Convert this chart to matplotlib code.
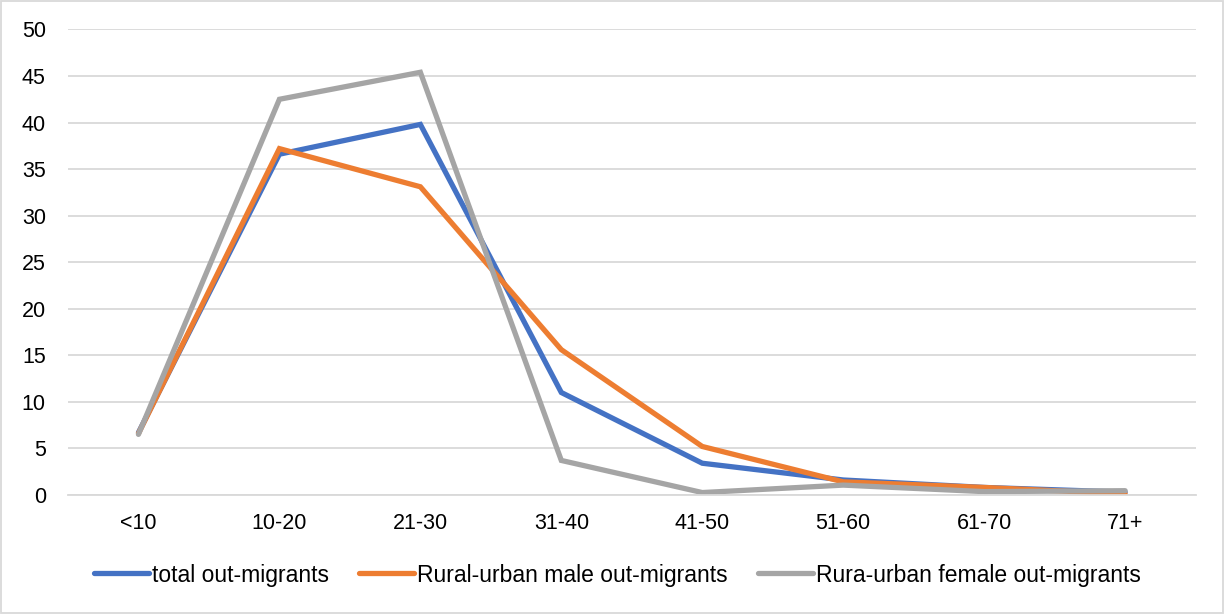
import matplotlib
matplotlib.use("Agg")
import matplotlib.pyplot as plt
from matplotlib.patches import Rectangle

plt.rcParams['font.family'] = ['Liberation Sans', 'DejaVu Sans']

age_groups = ["<10", "10-20", "21-30", "31-40", "41-50", "51-60", "61-70", "71+"]
total_out = [6.7, 36.6, 39.8, 11.0, 3.4, 1.6, 0.8, 0.3]
male_out = [6.6, 37.2, 33.1, 15.6, 5.2, 1.4, 0.8, 0.1]
female_out = [6.5, 42.5, 45.4, 3.7, 0.25, 1.05, 0.35, 0.45]

series_names = ["total out-migrants", "Rural-urban male out-migrants",
                "Rura-urban female out-migrants"]
colors = ["#4472C4", "#ED7D31", "#A5A5A5"]

fig = plt.figure(figsize=(12.25, 6.14), dpi=100)
ax = fig.add_axes([0.0555, 0.194, 0.9205, 0.758])

x = list(range(len(age_groups)))
for vals, name, c in zip([total_out, male_out, female_out], series_names, colors):
    ax.plot(x, vals, color=c, lw=3.8, label=name, solid_joinstyle='miter',
            solid_capstyle='round')

ax.set_xlim(-0.5, len(age_groups) - 0.5)
ax.set_ylim(0, 50)
ax.set_yticks(range(0, 51, 5))
ax.set_xticks(x)
ax.set_xticklabels(age_groups)
ax.yaxis.grid(True, color="#D9D9D9", lw=1.3)
ax.set_axisbelow(True)
for s in ax.spines.values():
    s.set_visible(False)
ax.spines['bottom'].set_visible(True)
ax.spines['bottom'].set_color("#D9D9D9")
ax.spines['bottom'].set_linewidth(1.3)
ax.tick_params(axis='both', length=0, labelsize=15.5, colors="#000000")
ax.tick_params(axis='y', pad=16)
ax.tick_params(axis='x', pad=13)

leg = fig.legend(loc='center', bbox_to_anchor=(0.504, 0.0635), ncol=3,
                 frameon=False, fontsize=16.5, handlelength=2.4,
                 columnspacing=1.3, handletextpad=0.15)
for h in leg.get_lines():
    h.set_linewidth(3.8)

fig.patches.append(Rectangle((0.001, 0.002), 0.997, 0.996, transform=fig.transFigure,
                             fill=False, edgecolor="#D9D9D9", lw=1.3))

fig.savefig("out.png", dpi=100)
